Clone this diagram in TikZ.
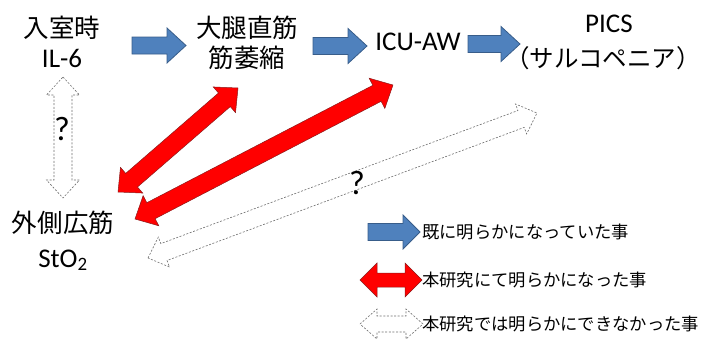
\documentclass[tikz,border=0pt]{standalone}
\usepackage{fontspec}
\setmainfont{Carlito}
\newfontfamily\jp{Noto Sans CJK JP}
\usetikzlibrary{calc}
\definecolor{bfill}{HTML}{4F81BD}
\definecolor{bline}{HTML}{385D8A}
\definecolor{rline}{HTML}{8B1A1A}
\definecolor{dline}{HTML}{6F6F6F}
\newcommand\sarrow[6]{%
  \pgfmathanglebetweenpoints{\pgfpointanchor{#2}{center}}{\pgfpointanchor{#3}{center}}%
  \let\arang\pgfmathresult
  \pgfpointdiff{\pgfpointanchor{#2}{center}}{\pgfpointanchor{#3}{center}}%
  \pgfgetlastxy{\ardx}{\ardy}%
  \pgfmathsetmacro\arlen{veclen(\ardx,\ardy)}%
  \begin{scope}[shift={(#2)}, rotate=\arang]
    \draw[#1] (0pt,#4) -- (\arlen pt-#6,#4) -- (\arlen pt-#6,#5) -- (\arlen pt,0pt)
      -- (\arlen pt-#6,-#5) -- (\arlen pt-#6,-#4) -- (0pt,-#4) -- cycle;
  \end{scope}}
\newcommand\darrow[6]{%
  \pgfmathanglebetweenpoints{\pgfpointanchor{#2}{center}}{\pgfpointanchor{#3}{center}}%
  \let\arang\pgfmathresult
  \pgfpointdiff{\pgfpointanchor{#2}{center}}{\pgfpointanchor{#3}{center}}%
  \pgfgetlastxy{\ardx}{\ardy}%
  \pgfmathsetmacro\arlen{veclen(\ardx,\ardy)}%
  \begin{scope}[shift={(#2)}, rotate=\arang]
    \draw[#1] (0pt,0pt) -- (#6,#5) -- (#6,#4) -- (\arlen pt-#6,#4) -- (\arlen pt-#6,#5)
      -- (\arlen pt,0pt) -- (\arlen pt-#6,-#5) -- (\arlen pt-#6,-#4) -- (#6,-#4)
      -- (#6,-#5) -- cycle;
  \end{scope}}
\tikzset{
  bluearr/.style={fill=bfill, draw=bline, line width=0.8pt, line join=miter},
  redarr/.style={fill=red, draw=rline, line width=0.5pt, line join=miter},
  dasharr/.style={fill=white, draw=dline, line width=0.6pt, dash pattern=on 2pt off 1.6pt},
  jpbig/.style={inner sep=0pt, anchor=base, font=\jp\fontsize{25.5pt}{30pt}\selectfont},
  lat/.style={inner sep=0pt, anchor=base, font=\fontsize{27pt}{31pt}\selectfont},
  qmark/.style={inner sep=0pt, font=\fontsize{34pt}{38pt}\selectfont},
  legtxt/.style={inner sep=0pt, anchor=base west, font=\jp\fontsize{17.3pt}{20pt}\selectfont},
}
\begin{document}
\begin{tikzpicture}[x=1pt, y=-1pt]
\useasboundingbox (0,0) rectangle (703,340);
% coordinates for arrow ends
\coordinate (b1s) at (132,45.5); \coordinate (b1e) at (186,45.5);
\coordinate (b2s) at (313,46);   \coordinate (b2e) at (367,46);
\coordinate (b3s) at (468,44);   \coordinate (b3e) at (520,44);
\coordinate (dvs) at (63,77);    \coordinate (dve) at (63,198);
\coordinate (r1s) at (118,192);  \coordinate (r1e) at (238,88);
\coordinate (r2s) at (135,219);  \coordinate (r2e) at (393,85);
\coordinate (dds) at (148,258);  \coordinate (dde) at (537,113);
\coordinate (lbs) at (368,232);  \coordinate (lbe) at (420,232);
\coordinate (lrs) at (360,280);  \coordinate (lre) at (422,280);
\coordinate (lds) at (360,324);  \coordinate (lde) at (423,324);
% arrows
\sarrow{bluearr}{b1s}{b1e}{8.5pt}{17.5pt}{19pt}
\sarrow{bluearr}{b2s}{b2e}{8.5pt}{17.5pt}{19pt}
\sarrow{bluearr}{b3s}{b3e}{8.5pt}{17.5pt}{19pt}
\darrow{dasharr}{dvs}{dve}{9pt}{16.5pt}{18pt}
\darrow{dasharr}{dds}{dde}{9pt}{16pt}{17pt}
\darrow{redarr}{r1s}{r1e}{9pt}{17pt}{18pt}
\darrow{redarr}{r2s}{r2e}{9pt}{17pt}{18pt}
% legend arrows
\sarrow{bluearr}{lbs}{lbe}{8.5pt}{17pt}{17pt}
\darrow{redarr}{lrs}{lre}{7pt}{17pt}{17pt}
\darrow{dasharr}{lds}{lde}{8pt}{15pt}{17pt}
% texts
\node[jpbig] (nyu) at (62,37) {入室時};
\node[lat] (il6) at (62,67) {IL-6};
\node[jpbig] (dai) at (247,37) {大腿直筋};
\node[jpbig] (kin) at (247,67) {筋萎縮};
\node[lat] (icu) at (418,50) {ICU-AW};
\node[lat] (pics) at (609,32) {PICS};
\node[jpbig, font=\jp\fontsize{24.5pt}{30pt}\selectfont] (sarco) at (603,67) {\kern-0.42em（サルコペニア）\kern-0.42em};
\node[jpbig] (gai) at (63,232) {外側広筋};
\node[lat] (sto) at (63,267) {StO\textsubscript{2}};
\node[qmark] (q1) at (62,129) {?};
\node[qmark] (q2) at (357,183) {?};
\node[legtxt] (l1) at (422,238.5) {既に明らかになっていた事};
\node[legtxt] (l2) at (422,286.5) {本研究にて明らかになった事};
\node[legtxt] (l3) at (422,330.5) {本研究では明らかにできなかった事};
\end{tikzpicture}
\end{document}
